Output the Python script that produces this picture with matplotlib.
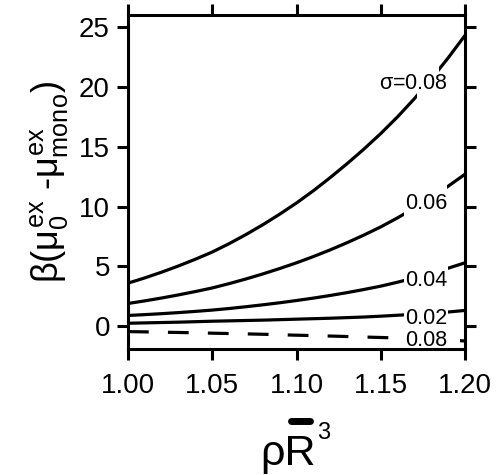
import matplotlib
matplotlib.use('Agg')
import matplotlib.pyplot as plt
from matplotlib.patches import Rectangle
from matplotlib.lines import Line2D

plt.rcParams['font.family'] = 'Liberation Sans'
plt.rcParams['mathtext.fontset'] = 'custom'
plt.rcParams['mathtext.rm'] = 'Liberation Sans'
plt.rcParams['mathtext.it'] = 'Liberation Sans'
plt.rcParams['mathtext.bf'] = 'Liberation Sans:bold'

# reduced density rho*Rbar^3
density = [1.00, 1.01, 1.02, 1.03, 1.04, 1.05, 1.06, 1.07, 1.08, 1.09, 1.10,
           1.11, 1.12, 1.13, 1.14, 1.15, 1.16, 1.17, 1.18, 1.19, 1.20]

# beta*(mu0_ex - mu_mono_ex) for each polydispersity sigma
mu_s008 = [3.6, 4.04, 4.52, 5.04, 5.6, 6.2, 6.9, 7.66, 8.48, 9.36, 10.3,
           11.32, 12.42, 13.58, 14.8, 16.1, 17.5, 19.02, 20.66, 22.42, 24.3]
mu_s006 = [1.9, 2.12, 2.36, 2.62, 2.9, 3.2, 3.56, 3.95, 4.37, 4.82, 5.3,
           5.82, 6.38, 6.98, 7.62, 8.3, 9.06, 9.88, 10.76, 11.7, 12.7]
mu_s004 = [0.9, 0.97, 1.05, 1.14, 1.24, 1.35, 1.48, 1.63, 1.79, 1.96, 2.15,
           2.35, 2.57, 2.81, 3.07, 3.35, 3.68, 4.04, 4.43, 4.85, 5.3]
mu_s002 = [0.25, 0.28, 0.31, 0.34, 0.38, 0.42, 0.45, 0.48, 0.51, 0.55, 0.59,
           0.63, 0.67, 0.72, 0.77, 0.84, 0.92, 1.0, 1.09, 1.19, 1.32]
mu_s008_neg = [-0.45, -0.47, -0.5, -0.52, -0.55, -0.58, -0.61, -0.64, -0.67, -0.71, -0.75,
               -0.78, -0.82, -0.86, -0.9, -0.94, -0.98, -1.03, -1.08, -1.15, -1.23]

curves = [mu_s008, mu_s006, mu_s004, mu_s002, mu_s008_neg]
curve_labels = [r'$\sigma$=0.08', '0.06', '0.04', '0.02', '0.08']
label_y = [20.25, 10.25, 3.85, 0.64, -1.17]
styles = ['-', '-', '-', '-', (0, (6.5, 6))]

# gaps cut in the curves where the labels sit: (x0, x1, y0, y1)
gaps = [(1.1713, 1.1846, 18.8, 22.4),
        (1.164, 1.189, 9.0, 12.0),
        (1.164, 1.190, 3.5, 5.3),
        (1.164, 1.190, 0.7, 1.45),
        (1.164, 1.197, -1.5, -0.8)]

fig = plt.figure(figsize=(5.04, 4.75), dpi=100)
ax = fig.add_axes([0.254, 0.2653, 0.6687, 0.7031])

for vals, ls in zip(curves, styles):
    ax.plot(density, vals, color='black', lw=2.3, ls=ls, zorder=2,
            solid_capstyle='butt', dash_capstyle='butt')

for x0, x1, y0, y1 in gaps:
    ax.add_patch(Rectangle((x0, y0), x1 - x0, y1 - y0, facecolor='white',
                           edgecolor='none', zorder=3))

for lab, y in zip(curve_labels, label_y):
    ax.text(1.1895, y, lab, ha='right', va='center', fontsize=15.5, zorder=4)

ax.set_xlim(1.0, 1.2)
ax.set_ylim(-1.9, 26.0)
ax.set_xticks([1.00, 1.05, 1.10, 1.15, 1.20])
ax.set_xticklabels(['1.00', '1.05', '1.10', '1.15', '1.20'])
ax.set_yticks([0, 5, 10, 15, 20, 25])

for sp in ax.spines.values():
    sp.set_linewidth(2.2)
ax.tick_params(direction='out', length=8, width=2.2, top=True, right=True,
               labeltop=False, labelright=False, labelsize=20)
ax.tick_params(axis='x', pad=9)
ax.tick_params(axis='y', pad=5)

ax.set_ylabel(r'$\beta(\mu_0^{\mathrm{ex}}$ -$\mu_{\mathrm{mono}}^{\mathrm{ex}})$', fontsize=26)
ax.yaxis.set_label_coords(-0.172, 0.5)

# x label: rho R-bar cubed, built from pieces so the bar can be thick
fig.text(260 / 504, 10 / 475, '\u03c1R', fontsize=31, ha='left', va='baseline')
fig.text(317 / 504, 36 / 475, '3', fontsize=17, ha='left', va='baseline')
fig.add_artist(Line2D([291 / 504, 310 / 504], [1 - 420.5 / 475] * 2, lw=5,
                      color='black', solid_capstyle='round',
                      transform=fig.transFigure))

fig.savefig('out.png', dpi=100)
